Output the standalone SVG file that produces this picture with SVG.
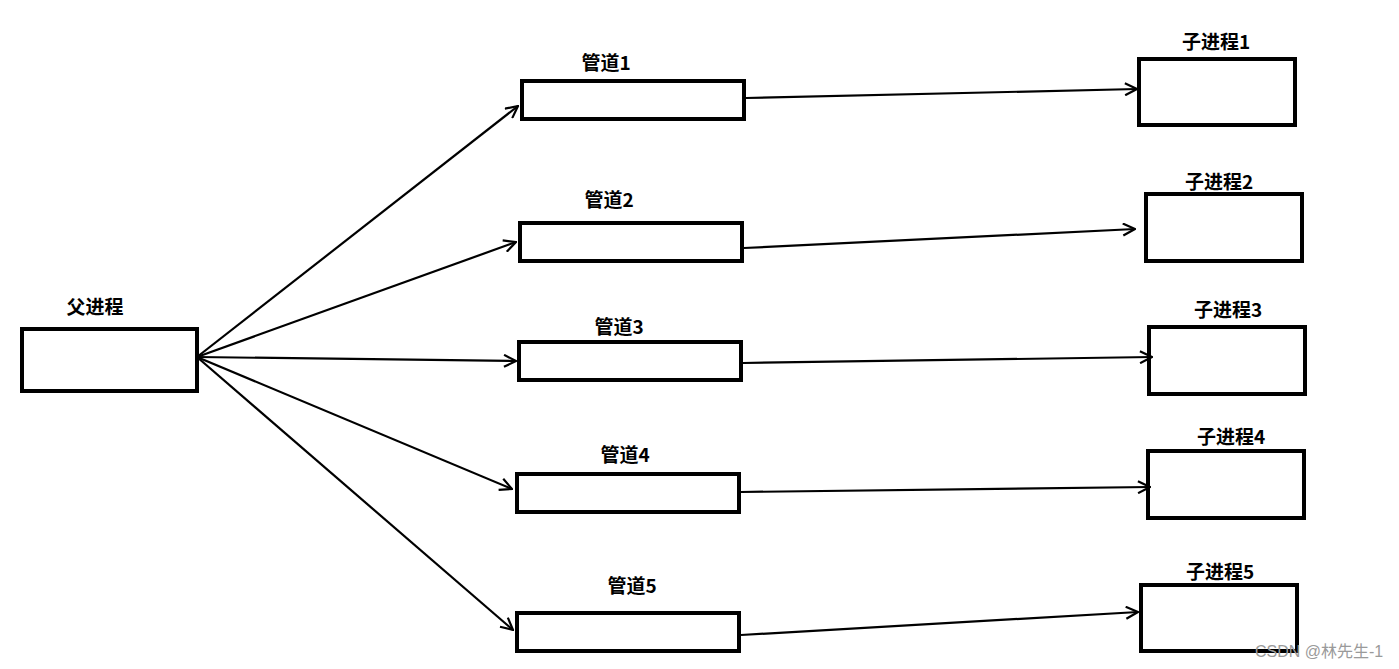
<svg xmlns="http://www.w3.org/2000/svg" width="1399" height="669" viewBox="0 0 1399 669">
<style>
.box{fill:#fff;stroke:#000;stroke-width:4}
.lbl{font-family:"Noto Sans CJK SC","Liberation Sans",sans-serif;font-weight:bold;font-size:19px;fill:#000}
.c{fill:none;stroke:#000;stroke-width:2.2;marker-end:url(#ah)}
.wm{font-family:"Liberation Sans","Noto Sans CJK SC",sans-serif;font-size:16px;fill:#9a9a9a}
</style>
<defs>
<marker id="ah" viewBox="0 0 14 14" refX="13" refY="7" markerWidth="14" markerHeight="14" markerUnits="userSpaceOnUse" orient="auto">
<path d="M1,1 L13,7 L1,13" fill="none" stroke="#000" stroke-width="2.2"/>
</marker>
</defs>
<rect width="1399" height="669" fill="#fff"/>
<g id="parent"><rect class="box" x="22" y="329" width="175" height="62"/><text class="lbl" x="95" y="314" text-anchor="middle">父进程</text></g>
<g id="pipe1"><rect class="box" x="522" y="81" width="222" height="38"/><text class="lbl" x="606" y="70" text-anchor="middle">管道1</text></g>
<g id="pipe2"><rect class="box" x="520" y="223" width="222" height="38"/><text class="lbl" x="609" y="207" text-anchor="middle">管道2</text></g>
<g id="pipe3"><rect class="box" x="519" y="342" width="222" height="38"/><text class="lbl" x="619" y="334" text-anchor="middle">管道3</text></g>
<g id="pipe4"><rect class="box" x="517" y="474" width="222" height="38"/><text class="lbl" x="625" y="462" text-anchor="middle">管道4</text></g>
<g id="pipe5"><rect class="box" x="517" y="613" width="222" height="38"/><text class="lbl" x="632" y="593" text-anchor="middle">管道5</text></g>
<g id="child1"><rect class="box" x="1139" y="59" width="156" height="66"/><text class="lbl" x="1216" y="49" text-anchor="middle">子进程1</text></g>
<g id="child2"><rect class="box" x="1146" y="194" width="156" height="67"/><text class="lbl" x="1219" y="189" text-anchor="middle">子进程2</text></g>
<g id="child3"><rect class="box" x="1149" y="327" width="156" height="67"/><text class="lbl" x="1228" y="317" text-anchor="middle">子进程3</text></g>
<g id="child4"><rect class="box" x="1148" y="451" width="156" height="67"/><text class="lbl" x="1231" y="444" text-anchor="middle">子进程4</text></g>
<g id="child5"><rect class="box" x="1141" y="585" width="156" height="66"/><text class="lbl" x="1220" y="579" text-anchor="middle">子进程5</text></g>
<g id="connectors">
<line class="c" x1="197" y1="357" x2="518" y2="106"/>
<line class="c" x1="197" y1="357" x2="516" y2="242"/>
<line class="c" x1="197" y1="357" x2="516" y2="361"/>
<line class="c" x1="197" y1="357" x2="512" y2="489"/>
<line class="c" x1="197" y1="357" x2="513" y2="630"/>
<line class="c" x1="746" y1="98" x2="1137" y2="89"/>
<line class="c" x1="744" y1="248" x2="1135" y2="229"/>
<line class="c" x1="743" y1="363" x2="1152" y2="357"/>
<line class="c" x1="741" y1="492" x2="1150" y2="487"/>
<line class="c" x1="741" y1="635" x2="1138" y2="612"/>
</g>
<text class="wm" x="1255" y="657">CSDN @林先生-1</text>
</svg>
